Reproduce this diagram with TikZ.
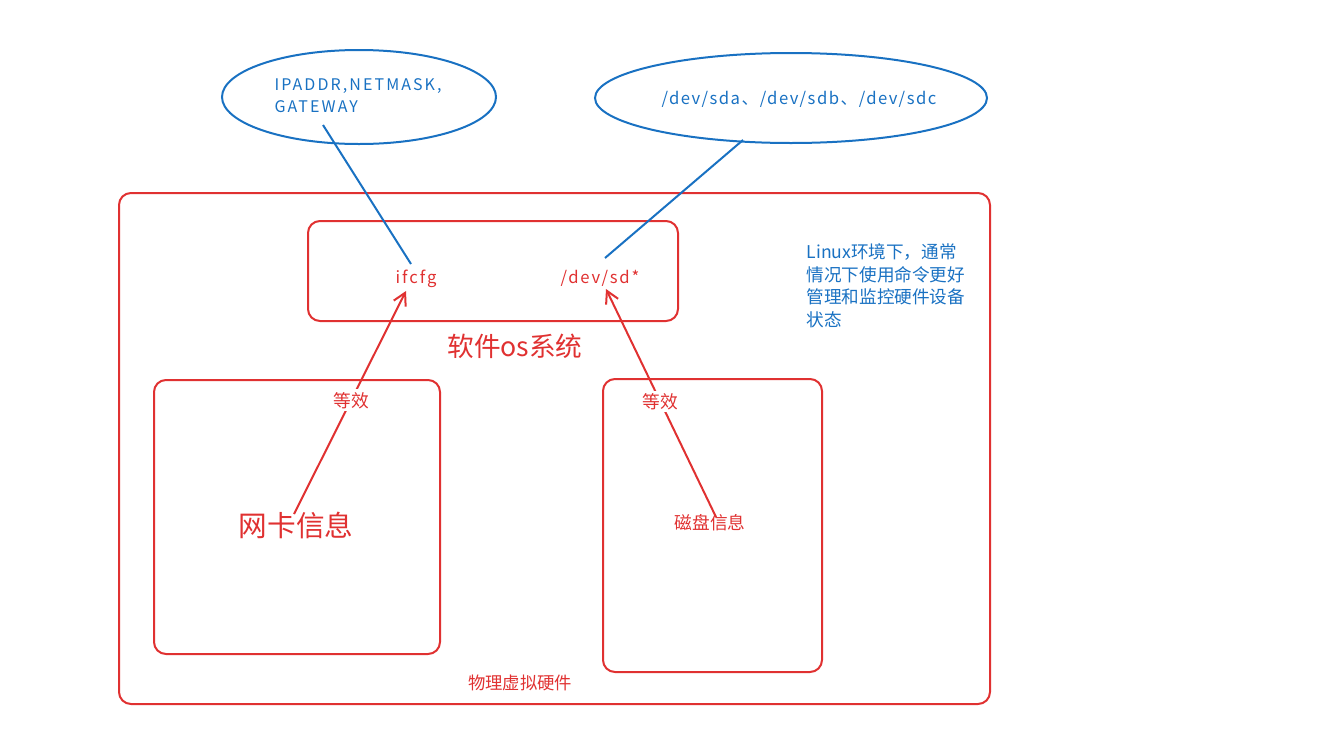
\documentclass[tikz,border=0pt]{standalone}
\usepackage{fontspec}
\setmainfont{Noto Sans CJK SC}
\usetikzlibrary{arrows.meta,shapes.geometric}
\definecolor{xred}{HTML}{E03131}
\definecolor{xblue}{HTML}{1971C2}
\tikzset{
  redbox/.style={draw=xred,line width=1.5pt,rounded corners=9pt},
  bluell/.style={draw=xblue,line width=1.5pt,ellipse,inner sep=0pt},
  blueline/.style={draw=xblue,line width=1.5pt},
  redarrow/.style={draw=xred,line width=1.5pt,-{Straight Barb[length=9pt,width=10pt,line width=1.5pt]}},
  redtxt/.style={text=xred,inner sep=1pt},
  bluetxt/.style={text=xblue,inner sep=1pt},
  eqlabel/.style={text=xred,fill=white,inner sep=2pt,font=\fontsize{13.3}{15}\selectfont},
}
\begin{document}
\begin{tikzpicture}[x=0.75pt,y=-0.75pt]
\useasboundingbox (0,0) rectangle (1326,739);
% boxes
\node[redbox,minimum width=871*0.75pt,minimum height=511*0.75pt,anchor=north west] (outer) at (118,192) {};
\node[redbox,minimum width=370*0.75pt,minimum height=100*0.75pt,anchor=north west] (soft) at (307,220) {};
\node[redbox,minimum width=286*0.75pt,minimum height=274*0.75pt,anchor=north west] (left) at (153,379) {};
\node[redbox,minimum width=219*0.75pt,minimum height=293*0.75pt,anchor=north west] (right) at (602,378) {};
% ellipses
\node[bluell,minimum width=274*0.75pt,minimum height=94*0.75pt] (e1) at (359,97) {};
\node[bluell,minimum width=392*0.75pt,minimum height=90*0.75pt] (e2) at (791,98) {};
% ellipse texts
\node[bluetxt,anchor=west,align=left,font=\fontsize{12}{16.5}\selectfont\addfontfeature{LetterSpace=13}] (e1t) at (273,96) {IPADDR,NETMASK,\\GATEWAY};
\node[bluetxt,font=\fontsize{12.5}{14}\selectfont\addfontfeature{LetterSpace=9}] (e2t) at (799,99) {/dev/sda、/dev/sdb、/dev/sdc};
% software texts
\node[redtxt,font=\fontsize{12.5}{14}\selectfont\addfontfeature{LetterSpace=12}] (ifcfg) at (416,279) {ifcfg};
\node[redtxt,font=\fontsize{12.5}{14}\selectfont\addfontfeature{LetterSpace=10.5}] (sd) at (600,278) {/dev/sd*};
\node[redtxt,font=\fontsize{20}{22}\selectfont] (soslbl) at (515,346) {软件os系统};
% hardware texts
\node[redtxt,font=\fontsize{21.5}{23}\selectfont] (wk) at (296,525) {网卡信息};
\node[redtxt,font=\fontsize{13.3}{15}\selectfont] (cp) at (710,523) {磁盘信息};
\node[redtxt,font=\fontsize{13}{15}\selectfont] (hw) at (520,683) {物理虚拟硬件};
% note
\node[bluetxt,anchor=north west,align=left,font=\fontsize{13.2}{17}\selectfont] (note) at (805,242) {Linux环境下，通常\\情况下使用命令更好\\管理和监控硬件设备\\状态};
% connector coordinates
\coordinate (b1s) at (323,125);
\coordinate (b1e) at (411,264);
\coordinate (b2s) at (743,140);
\coordinate (b2e) at (605,258);
\coordinate (r1s) at (294,514);
\coordinate (r1e) at (406,291);
\coordinate (r2s) at (716,517);
\coordinate (r2e) at (606,289);
% blue connectors
\draw[blueline] (b1s) -- (b1e);
\draw[blueline] (b2s) -- (b2e);
% red arrows
\draw[redarrow] (r1s) -- node[eqlabel,pos=0.51] (eq1) {等效} (r1e);
\draw[redarrow] (r2s) -- node[eqlabel,pos=0.507] (eq2) {等效} (r2e);
\end{tikzpicture}
\end{document}
